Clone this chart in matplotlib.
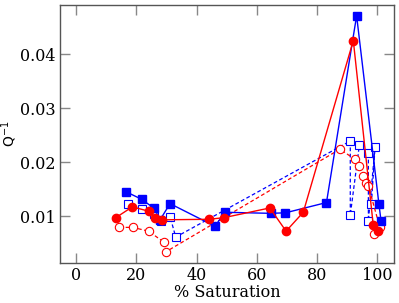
import matplotlib
matplotlib.use("Agg")
import matplotlib.pyplot as plt

plt.rcParams["font.family"] = ["DejaVu Serif"]
plt.rcParams["mathtext.fontset"] = "dejavusans"

# filled blue squares, solid line
blue_full_x = [16.6, 21.8, 26.0, 27.9, 31.2, 46.1, 49.4, 64.6, 69.5, 83.1, 93.1, 100.5, 101.2]
blue_full_y = [0.0145, 0.0131, 0.0114, 0.0093, 0.0123, 0.0081, 0.0107, 0.0105, 0.0106, 0.0125, 0.0471, 0.0122, 0.0091]

# open blue squares, dashed line
blue_open_x = [17.1, 21.8, 26.0, 28.2, 31.2, 33.1, 91.0, 91.0, 94.0, 97.0, 97.0, 99.2, 98.0]
blue_open_y = [0.0122, 0.0113, 0.0103, 0.0091, 0.0099, 0.0061, 0.0239, 0.0102, 0.0231, 0.0217, 0.0091, 0.0227, 0.0122]

# filled red circles, solid line
red_full_x = [13.2, 18.7, 24.1, 26.3, 28.7, 44.1, 49.1, 64.3, 69.7, 75.4, 92.0, 98.6, 100.3]
red_full_y = [0.0097, 0.0117, 0.0109, 0.0096, 0.0093, 0.0094, 0.0097, 0.0115, 0.0072, 0.0107, 0.0425, 0.0084, 0.0072]

# open red circles, dashed line
red_open_x = [14.4, 18.8, 24.1, 29.3, 29.9, 87.6, 92.5, 93.9, 95.1, 96.2, 97.0, 100.8, 99.0]
red_open_y = [0.0079, 0.0079, 0.0072, 0.0051, 0.0034, 0.0224, 0.0205, 0.0193, 0.0175, 0.0162, 0.0156, 0.0079, 0.0067]

fig = plt.figure(figsize=(3.99, 3.03), dpi=100)
ax = fig.add_axes([60 / 399, 40 / 303, 334 / 399, 258 / 303])

ax.plot(blue_open_x, blue_open_y, "s--", color="blue", mfc="white", ms=5.5, lw=0.9, mew=0.8,
        dashes=(3, 2), zorder=2)
ax.plot(red_open_x, red_open_y, "o--", color="red", mfc="white", ms=6, lw=0.9, mew=0.8,
        dashes=(3, 2), zorder=2)
ax.plot(blue_full_x, blue_full_y, "s-", color="blue", ms=5.5, lw=1.0, zorder=3)
ax.plot(red_full_x, red_full_y, "o-", color="red", ms=6, lw=1.0, zorder=3)

ax.set_xlim(-5.3, 105.5)
ax.set_ylim(0.0013, 0.0491)
ax.set_xticks([0, 20, 40, 60, 80, 100])
ax.set_yticks([0.01, 0.02, 0.03, 0.04])
ax.set_yticklabels(["0.01", "0.02", "0.03", "0.04"])
ax.tick_params(direction="in", length=7, width=1, color="#888888", labelsize=11.5,
               top=True, right=True, pad=3)
for s in ax.spines.values():
    s.set_color("#555555")
    s.set_linewidth(1)

ax.set_xlabel("% Saturation", fontsize=11.5, labelpad=0)
ax.set_ylabel("Q$^{-1}$", fontsize=10, family="DejaVu Sans", va="center")
ax.yaxis.set_label_coords(-0.152, 0.5)

fig.savefig("out.png", dpi=100)
